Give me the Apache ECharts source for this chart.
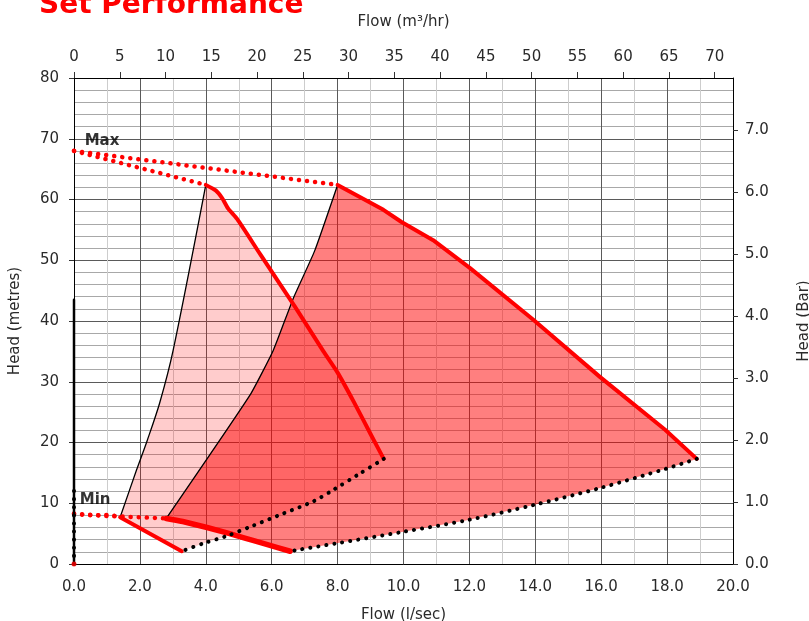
<!DOCTYPE html>
<html>
<head>
<meta charset="utf-8">
<script src="https://cdn.jsdelivr.net/npm/echarts@6/dist/echarts.min.js"></script>
<style>
html,body{margin:0;padding:0;background:#fff;}
#chart{width:809px;height:621px;}
</style>
</head>
<body>
<div id="chart"></div>
<script>
// ---- tick labels / unit conversions ----
const flowLpsMax = 20;
const headMMax = 80;
const M3H_PER_LPS = 3.6;
const M_PER_BAR = 10.197;
const flowM3hTicks = [0,5,10,15,20,25,30,35,40,45,50,55,60,65,70];
const headBarTicks = [0,1,2,3,4,5,6,7];

// ---- small pump envelope ----
const smallRise  = [[1.4,7.7],[1.9,15.5],[2.22,20.3],[2.6,26.5],[3.01,35.2],[4.0,62.4]];
const smallCurve = [[4.0,62.4],[4.3,61.5],[4.5,60.2],[4.68,58.5],[4.95,56.8],[5.65,51.0],[6.7,42.4],[7.57,35.0],[8.0,31.5],[8.5,26.6],[9.0,21.4],[9.4,17.3]];
const smallEnd   = [[9.4,17.3],[8.68,14.9],[7.87,12.2],[7.26,10.3],[6.35,8.3],[5.34,6.1],[4.63,4.6],[3.93,3.4],[3.27,2.1]];
const smallMin   = [[1.4,7.7],[3.27,2.1]];

// ---- large pump envelope ----
const bigRise  = [[2.8,7.5],[5.34,27.8],[6.05,35.2],[6.66,43.8],[7.3,51.5],[8.0,62.4]];
const bigCurve = [[8.0,62.4],[9.39,58.3],[9.94,56.3],[10.9,53.3],[12.02,48.7],[13.94,40.2],[15.96,30.8],[17.94,22.1],[18.9,17.3]];
const bigEnd   = [[18.9,17.3],[17.98,15.7],[15.96,12.5],[13.94,9.7],[11.92,7.2],[9.99,5.3],[7.97,3.4],[6.76,2.3],[6.56,2.1]];
const bigMin   = [[2.8,7.5],[3.3,7.0],[4.7,5.05],[6.56,2.1]];

// ---- max / min speed lines ----
const maxToSmall = [[0,68],[4.0,62.4]];
const maxToBig   = [[0,68],[8.0,62.4]];
const minToSmall = [[0,8.2],[0.6,8.0],[1.1,8.1],[1.4,7.7]];
const minToBig   = [[0,8.3],[1.0,7.9],[2.0,7.7],[2.8,7.5]];

// ---- zero flow ----
const zeroFlowLine = [[0,0],[0,43.5]];
const zeroFlowDots = [[0,0],[0,12.2]];
const origin = [[0,0]];

// ---- annotations ----
const annotations = [{name:'Max', value:[0.85,69.6]},{name:'Min', value:[0.64,10.5]}];

const smallPoly = smallRise.concat(smallCurve.slice(1), smallEnd.slice(1), smallMin.slice().reverse().slice(1,-1));
const bigPoly = bigRise.concat(bigCurve.slice(1), bigEnd.slice(1), bigMin.slice().reverse().slice(1,-1));

const FONT = 'DejaVu Sans';
const chart = echarts.init(document.getElementById('chart'));

function polySeries(points, fill){
  return {
    type:'custom', xAxisIndex:0, yAxisIndex:0, silent:true, z:1,
    data: points,
    renderItem: function(params, api){
      if (params.dataIndex !== 0) return;
      return {type:'polygon', shape:{points: points.map(p => api.coord(p))}, style:{fill: fill}};
    }
  };
}
function lineSeries(data, color, width, dotted, z, smooth){
  return {
    type:'line', xAxisIndex:0, yAxisIndex:0, data:data, symbol:'none', silent:true, z: z||3,
    smooth: smooth || false,
    lineStyle: dotted ? {color:color, width:width, type:[0.1,8], cap:'round'} : {color:color, width:width, cap:'round', join:'round'}
  };
}

const gridDark = {show:true, lineStyle:{color:'#5a5a5a', width:1}};
const axisLabelStyle = {fontFamily:FONT, fontSize:15, color:'#2a2a2a'};
const nameStyle = {fontFamily:FONT, fontSize:15, color:'#2a2a2a'};

chart.setOption({
  animation:false,
  title:{text:'Set Performance', left:39, top:-8, padding:0,
    textStyle:{fontFamily:FONT, fontSize:28, fontWeight:'bold', color:'#ff0000'}},
  grid:{left:74, right:76, top:78, bottom:57, containLabel:false, outerBoundsMode:'none'},
  xAxis:[
    {type:'value', position:'bottom', min:0, max:flowLpsMax, interval:2,
     name:'Flow (l/sec)', nameLocation:'middle', nameGap:44, nameTextStyle:nameStyle,
     axisLine:{show:true, onZero:false, lineStyle:{color:'#000', width:1}},
     axisTick:{show:false},
     axisLabel:Object.assign({margin:16, formatter:v=>v.toFixed(1)}, axisLabelStyle),
     splitLine:gridDark,
     minorTick:{show:false, splitNumber:2},
     minorSplitLine:{show:true, lineStyle:{color:'#cdcdcd', width:1}}},
    {type:'value', position:'top', min:0, max:flowLpsMax*M3H_PER_LPS,
     name:'Flow (m³/hr)', nameLocation:'middle', nameGap:48, nameTextStyle:nameStyle,
     axisLine:{show:true, onZero:false, lineStyle:{color:'#000', width:1}},
     axisTick:{show:true, length:6, inside:false, customValues:flowM3hTicks, lineStyle:{color:'#333'}},
     axisLabel:Object.assign({margin:13, customValues:flowM3hTicks}, axisLabelStyle),
     splitLine:{show:false}}
  ],
  yAxis:[
    {type:'value', position:'left', min:0, max:headMMax, interval:10,
     name:'Head (metres)', nameLocation:'middle', nameGap:51, nameRotate:90, nameTextStyle:nameStyle,
     axisLine:{show:true, onZero:false, lineStyle:{color:'#000', width:1}},
     axisTick:{show:true, length:5, lineStyle:{color:'#333'}},
     axisLabel:Object.assign({margin:15}, axisLabelStyle),
     splitLine:gridDark,
     minorTick:{show:false, splitNumber:5},
     minorSplitLine:{show:true, lineStyle:{color:'#a8a8a8', width:1}}},
    {type:'value', position:'right', min:0, max:headMMax/M_PER_BAR,
     name:'Head (Bar)', nameLocation:'middle', nameGap:64, nameRotate:90, nameTextStyle:nameStyle,
     axisLine:{show:true, onZero:false, lineStyle:{color:'#000', width:1}},
     axisTick:{show:true, length:5, customValues:headBarTicks, lineStyle:{color:'#333'}},
     axisLabel:Object.assign({margin:12, customValues:headBarTicks, formatter:v=>v.toFixed(1)}, axisLabelStyle),
     splitLine:{show:false}}
  ],
  series:[
    polySeries(smallPoly, 'rgba(255,0,0,0.2)'),
    polySeries(bigPoly, 'rgba(255,0,0,0.5)'),
    lineSeries(smallRise, '#000', 1.3, false, 3, 0.3),
    lineSeries(bigRise, '#000', 1.3, false, 3, 0.15),
    lineSeries(smallCurve, '#ff0000', 4, false, 4, 0.2),
    lineSeries(bigCurve, '#ff0000', 4, false, 4),
    lineSeries(smallMin, '#ff0000', 4, false, 4),
    lineSeries(bigMin, '#ff0000', 5.5, false, 4, 0.3),
    lineSeries(smallEnd, '#000', 4, true, 5, 0.3),
    lineSeries(bigEnd, '#000', 4, true, 5, 0.3),
    lineSeries(maxToSmall, '#ff0000', 4.5, true, 5),
    lineSeries(maxToBig, '#ff0000', 4.5, true, 5),
    lineSeries(minToSmall, '#ff0000', 4.5, true, 5),
    lineSeries(minToBig, '#ff0000', 4.5, true, 5),
    lineSeries(zeroFlowLine, '#000', 2.5, false, 5),
    lineSeries(zeroFlowDots, '#000', 4, true, 5),
    {type:'scatter', xAxisIndex:0, yAxisIndex:0, data:origin, symbolSize:5, itemStyle:{color:'#ff0000'}, silent:true, z:6},
    {type:'scatter', xAxisIndex:0, yAxisIndex:0, data:annotations, symbolSize:0, silent:true, z:6,
     label:{show:true, position:'inside', formatter:p=>p.name, fontFamily:FONT, fontSize:15, fontWeight:'bold', color:'#000'}}
  ]
});
</script>
</body>
</html>
